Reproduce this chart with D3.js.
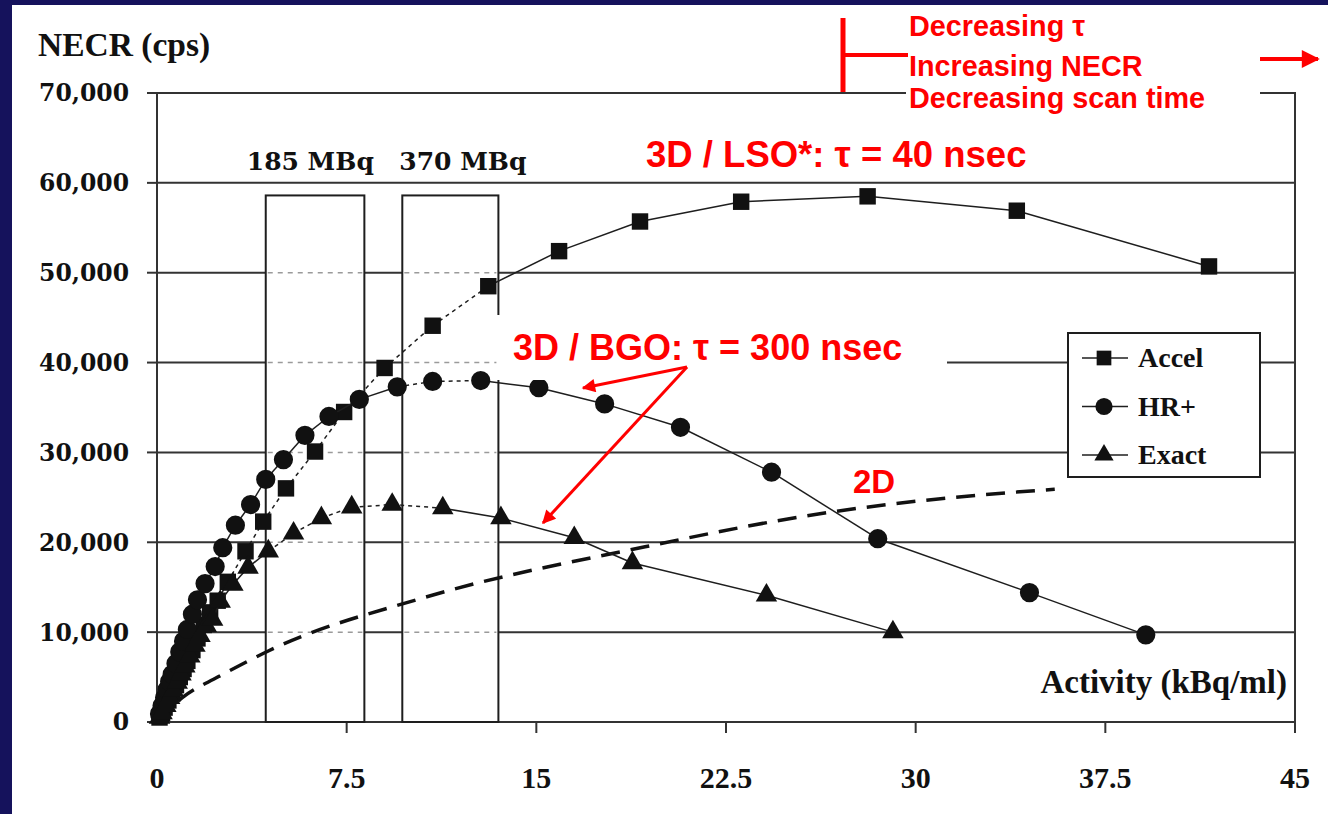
<!DOCTYPE html>
<html>
<head>
<meta charset="utf-8">
<script src="https://cdn.jsdelivr.net/npm/d3@7"></script>
<style>
  html, body { margin: 0; padding: 0; background: #15125c; }
  svg { display: block; }
</style>
</head>
<body>
<svg id="chart" width="1328" height="814"></svg>
<script>
const xTicks = [0, 7.5, 15, 22.5, 30, 37.5, 45]
const yTicks = [0, 10000, 20000, 30000, 40000, 50000, 60000, 70000]

// activity (kBq/ml), NECR (cps)
const accel = [
  [0.1, 500], [0.2, 1000], [0.3, 1600], [0.45, 2400], [0.6, 3200], [0.75, 4100],
  [0.9, 5000], [1.05, 5900], [1.2, 6800], [1.4, 8000], [1.6, 9300], [1.85, 10800],
  [2.1, 12200], [2.4, 13500], [2.8, 15600], [3.5, 19000], [4.2, 22300], [5.1, 26000],
  [6.25, 30100], [7.4, 34500], [9.0, 39400], [10.9, 44100], [13.1, 48500], [15.9, 52400],
  [19.1, 55700], [23.1, 57900], [28.1, 58500], [34.0, 56900], [41.6, 50700]
]
const hrPlus = [
  [0.1, 900], [0.2, 1800], [0.3, 2700], [0.4, 3600], [0.5, 4500], [0.6, 5300],
  [0.75, 6500], [0.9, 7800], [1.05, 9000], [1.2, 10300], [1.4, 12000], [1.6, 13600],
  [1.9, 15400], [2.3, 17300], [2.6, 19400], [3.1, 21900], [3.7, 24200], [4.3, 27000],
  [5.0, 29200], [5.85, 31900], [6.8, 34000], [8.0, 35900], [9.5, 37300], [10.9, 37900],
  [12.8, 38000], [15.1, 37200], [17.7, 35400], [20.7, 32800], [24.3, 27800], [28.5, 20400],
  [34.5, 14400], [39.1, 9700]
]
const exact = [
  [0.1, 500], [0.2, 1000], [0.35, 1800], [0.5, 2700], [0.65, 3500], [0.8, 4400],
  [0.95, 5300], [1.1, 6200], [1.3, 7300], [1.5, 8500], [1.7, 9600], [1.95, 10700],
  [2.2, 11400], [2.5, 13400], [3.0, 15300], [3.6, 17200], [4.4, 19000], [5.4, 21000],
  [6.5, 22700], [7.7, 23900], [9.3, 24200], [11.3, 23800], [13.6, 22700], [16.5, 20500],
  [18.8, 17700], [24.1, 14100], [29.1, 10000]
]
const twoD = [
  [0, 0], [1.0, 2700], [2.4, 5000], [3.55, 6700], [4.4, 7900], [10.5, 13800],
  [19.3, 19500], [26.5, 23300], [30.8, 24800], [35.5, 25900]
]

const seriesNames = ['Accel', 'HR+', 'Exact']
const seriesValues = [accel, hrPlus, exact]
const doseLabels = ['185 MBq', '370 MBq']
const doseRanges = [[4.3, 8.2], [9.7, 13.5]]
const doseBoxTop = 58600

// parts of each curve that are printed dotted in the scan
const dottedSpans = [[[0, 13.1]], [[9.5, 12.8]], [[4.4, 11.3]]]
const symbolTypes = [d3.symbolSquare, d3.symbolCircle, d3.symbolTriangle]
const symbolSizes = [270, 290, 200]

const ink = '#1e1e1e'
const red = '#ff0000'
const serif = "'Liberation Serif', 'Times New Roman', serif"
const wideSerif = "'DejaVu Serif', serif"
const sans = "'Liberation Sans', Arial, sans-serif"

const svg = d3.select('#chart')

svg.append('rect')
  .attr('x', 12).attr('y', 5)
  .attr('width', 1316).attr('height', 809)
  .attr('fill', '#fff')

const x = d3.scaleLinear().domain([0, 45]).range([157, 1295])
const y = d3.scaleLinear().domain([0, 70000]).range([722, 93])

const defs = svg.append('defs')
defs.append('marker')
  .attr('id', 'redHead')
  .attr('viewBox', '0 0 10 10')
  .attr('refX', 9).attr('refY', 5)
  .attr('markerWidth', 5).attr('markerHeight', 4.5)
  .attr('orient', 'auto')
  .append('path')
  .attr('d', 'M0,0 L10,5 L0,10 Z')
  .attr('fill', red)

/* grid + frame */
const grid = svg.append('g')
grid.selectAll('line.grid')
  .data(yTicks.filter(d => d > 0 && d < 70000))
  .enter().append('line')
  .attr('class', 'grid')
  .attr('x1', x(0)).attr('x2', x(45))
  .attr('y1', d => y(d)).attr('y2', d => y(d))
  .attr('stroke', '#333').attr('stroke-width', 2)

grid.append('path')
  .attr('d', `M${x(0)},${y(0)} V${y(70000)} H${x(45)} V${y(0)} Z`)
  .attr('fill', 'none').attr('stroke', '#333').attr('stroke-width', 2)

grid.selectAll('line.ytick')
  .data(yTicks)
  .enter().append('line')
  .attr('class', 'ytick')
  .attr('x1', x(0) - 10).attr('x2', x(0))
  .attr('y1', d => y(d)).attr('y2', d => y(d))
  .attr('stroke', '#333').attr('stroke-width', 2)

grid.selectAll('line.xtick')
  .data(xTicks.filter(d => d > 0))
  .enter().append('line')
  .attr('class', 'xtick')
  .attr('x1', d => x(d)).attr('x2', d => x(d))
  .attr('y1', y(0)).attr('y2', y(0) + 11)
  .attr('stroke', '#333').attr('stroke-width', 2)

svg.append('g').selectAll('text')
  .data(yTicks)
  .enter().append('text')
  .attr('x', 129)
  .attr('y', d => y(d))
  .attr('dy', '0.36em')
  .attr('text-anchor', 'end')
  .attr('font-family', wideSerif).attr('font-weight', 'bold').attr('font-size', 23.5)
  .attr('fill', '#111')
  .text(d => d3.format(',')(d))

svg.append('g').selectAll('text')
  .data(xTicks)
  .enter().append('text')
  .attr('x', d => x(d))
  .attr('y', 788)
  .attr('text-anchor', 'middle')
  .attr('font-family', serif).attr('font-weight', 'bold').attr('font-size', 30)
  .attr('fill', '#111')
  .text(d => d)

/* dose boxes */
const boxes = svg.append('g')
doseRanges.forEach((r, i) => {
  boxes.append('rect')
    .attr('x', x(r[0])).attr('y', y(doseBoxTop))
    .attr('width', x(r[1]) - x(r[0])).attr('height', y(0) - y(doseBoxTop))
    .attr('fill', '#fff').attr('stroke', ink).attr('stroke-width', 2)
  boxes.selectAll('line.dot' + i)
    .data(yTicks.filter(d => d > 0 && d < doseBoxTop))
    .enter().append('line')
    .attr('x1', x(r[0]) + 2).attr('x2', x(r[1]) - 2)
    .attr('y1', d => y(d)).attr('y2', d => y(d))
    .attr('stroke', '#9a9a9a').attr('stroke-width', 1.5)
    .attr('stroke-dasharray', '5,5')
})
const labelShift = [-19, -3]
boxes.selectAll('text')
  .data(doseLabels)
  .enter().append('text')
  .attr('x', (d, i) => x(doseRanges[i][0]) + labelShift[i])
  .attr('y', 170)
  .attr('font-family', wideSerif).attr('font-weight', 'bold').attr('font-size', 25)
  .attr('fill', '#111')
  .text(d => d)

/* 2D dashed curve */
svg.append('path')
  .datum(twoD)
  .attr('d', d3.line().x(d => x(d[0])).y(d => y(d[1])).curve(d3.curveMonotoneX))
  .attr('fill', 'none').attr('stroke', '#111').attr('stroke-width', 3.5)
  .attr('stroke-dasharray', '19,11')

/* series */
const inSpan = (spans, a, b) => spans.some(s => a >= s[0] && b <= s[1])

seriesValues.forEach((values, i) => {
  const g = svg.append('g').attr('class', 'series')
  const segs = d3.pairs(values)
  g.selectAll('line')
    .data(segs)
    .enter().append('line')
    .attr('x1', d => x(d[0][0])).attr('y1', d => y(d[0][1]))
    .attr('x2', d => x(d[1][0])).attr('y2', d => y(d[1][1]))
    .attr('stroke', ink)
    .attr('stroke-width', 1.5)
    .attr('stroke-dasharray', d => inSpan(dottedSpans[i], d[0][0], d[1][0]) ? '4,4' : null)
  g.selectAll('path')
    .data(values)
    .enter().append('path')
    .attr('transform', d => `translate(${x(d[0])},${y(d[1])})`)
    .attr('d', d3.symbol().type(symbolTypes[i]).size(symbolSizes[i]))
    .attr('fill', '#111')
})

/* legend */
const legend = svg.append('g').attr('transform', 'translate(1068,333)')
legend.append('rect')
  .attr('width', 192).attr('height', 144)
  .attr('fill', '#fff').attr('stroke', ink).attr('stroke-width', 2)
const item = legend.selectAll('g.item')
  .data(seriesNames)
  .enter().append('g')
  .attr('class', 'item')
  .attr('transform', (d, i) => `translate(0,${25 + i * 48.5})`)
item.append('line')
  .attr('x1', 14).attr('x2', 60)
  .attr('stroke', ink).attr('stroke-width', 1.6)
item.append('path')
  .attr('transform', 'translate(36,0)')
  .attr('d', (d, i) => d3.symbol().type(symbolTypes[i]).size(symbolSizes[i] * 0.8)())
  .attr('fill', '#111')
item.append('text')
  .attr('x', 70).attr('y', 9)
  .attr('font-family', serif).attr('font-weight', 'bold').attr('font-size', 28)
  .attr('fill', '#111')
  .text(d => d)

/* axis titles */
svg.append('text')
  .attr('x', 38).attr('y', 56)
  .attr('font-family', serif).attr('font-weight', 'bold').attr('font-size', 33.5)
  .attr('fill', '#111')
  .text('NECR (cps)')

svg.append('text')
  .attr('x', 1287).attr('y', 693)
  .attr('text-anchor', 'end')
  .attr('font-family', serif).attr('font-weight', 'bold').attr('font-size', 33)
  .attr('fill', '#111')
  .text('Activity (kBq/ml)')

/* red annotations */
const notes = svg.append('g')
notes.append('rect')
  .attr('x', 497).attr('y', 315).attr('width', 450).attr('height', 65)
  .attr('fill', '#fff')
notes.append('rect')
  .attr('x', 906).attr('y', 8).attr('width', 354).attr('height', 108)
  .attr('fill', '#fff')

const redText = (t, px, py, size) => notes.append('text')
  .attr('x', px).attr('y', py)
  .attr('font-family', sans).attr('font-weight', 'bold').attr('font-size', size)
  .attr('fill', red)
  .text(t)

redText('3D / LSO*: \u03c4 = 40 nsec', 646, 167, 36.5)
redText('3D / BGO: \u03c4 = 300 nsec', 513, 360, 36)
redText('2D', 853, 493, 33)
redText('Decreasing \u03c4', 909, 36, 28.8)
redText('Increasing NECR', 909, 76, 28.8)
redText('Decreasing scan time', 909, 108, 28.8)

const arrowFrom = [687, 367]
;[[583, 388], [543, 523]].forEach(t => {
  notes.append('line')
    .attr('x1', arrowFrom[0]).attr('y1', arrowFrom[1])
    .attr('x2', t[0]).attr('y2', t[1])
    .attr('stroke', red).attr('stroke-width', 3)
    .attr('marker-end', 'url(#redHead)')
})

notes.append('line')
  .attr('x1', 843).attr('x2', 843).attr('y1', 18).attr('y2', 92)
  .attr('stroke', red).attr('stroke-width', 5)
notes.append('line')
  .attr('x1', 843).attr('x2', 908).attr('y1', 55).attr('y2', 55)
  .attr('stroke', red).attr('stroke-width', 4)
notes.append('line')
  .attr('x1', 1260).attr('x2', 1318).attr('y1', 59).attr('y2', 59)
  .attr('stroke', red).attr('stroke-width', 4)
  .attr('marker-end', 'url(#redHead)')
</script>
</body>
</html>
